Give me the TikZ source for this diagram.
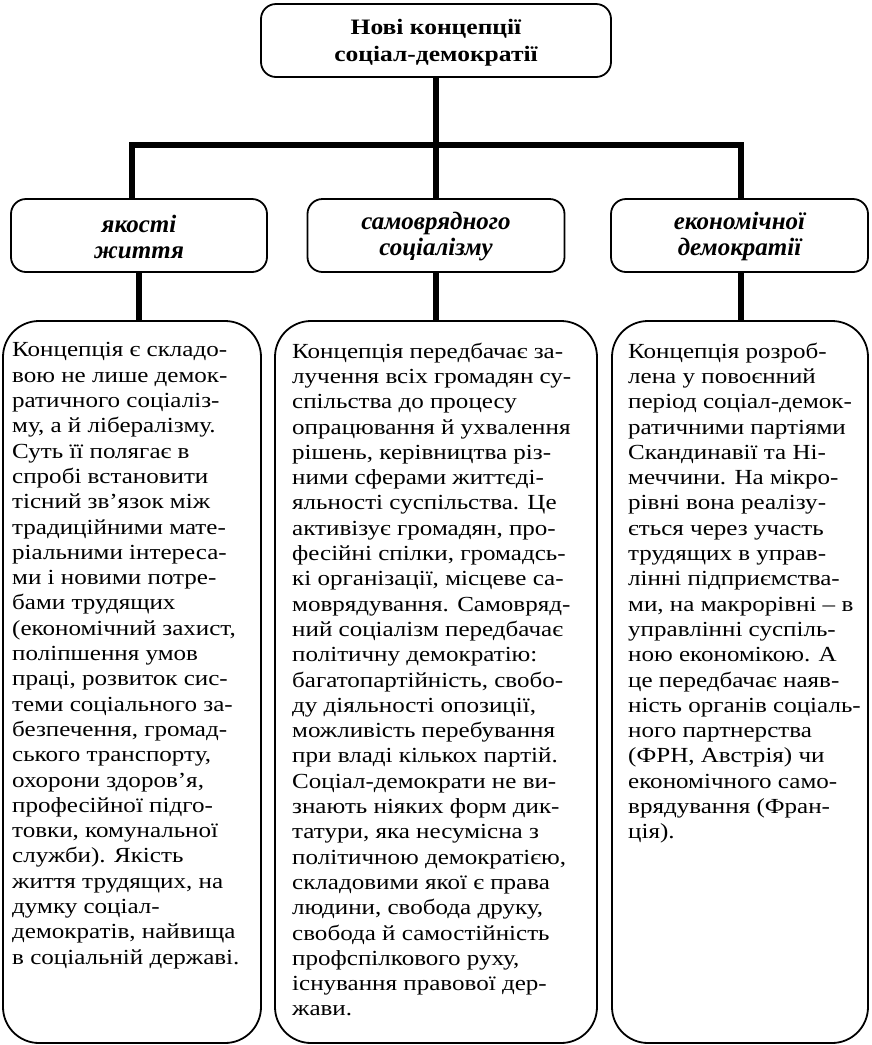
\documentclass[tikz,border=0pt]{standalone}
\usepackage{fontspec}
\setmainfont{Liberation Serif}
\newfontfamily\bodyfont[FakeStretch=1.165]{Liberation Serif}
\newfontfamily\titlefont[FakeStretch=1.16]{Liberation Serif}
\begin{document}
\begin{tikzpicture}[x=1pt,y=-1pt,
  headbox/.style={draw, line width=1.8pt, rounded corners=15pt, rectangle, inner sep=0pt},
  bigbox/.style={draw, line width=1.8pt, rounded corners=36pt, rectangle, inner sep=0pt},
  conn/.style={line width=5.5pt, line join=miter},
  bodytext/.style={font=\bodyfont\fontsize{21.5}{25.3}\selectfont, align=left, inner sep=0pt, anchor=north west},
  titletext/.style={font=\titlefont\fontsize{22}{27}\selectfont\bfseries, align=center, inner sep=0pt},
  subtext/.style={font=\fontsize{25}{26}\selectfont\bfseries\itshape, align=center, inner sep=0pt}
]
\useasboundingbox (0,0) rectangle (872,1045);

% top box
\node[headbox, minimum width=350pt, minimum height=73pt] (top) at (436,40.5) {};
\node[titletext] (toptxt) at ([yshift=-2pt]top.center) {Нові концепції\\соціал-демократії};

% second level
\node[headbox, minimum width=256pt, minimum height=73pt] (l1) at (139,235.5) {};
\node[headbox, minimum width=257pt, minimum height=73pt] (l2) at (436,235.5) {};
\node[headbox, minimum width=257pt, minimum height=73pt] (l3) at (739.5,235.5) {};
\node[subtext] (l1txt) at ([yshift=-1pt]l1.center) {якості\\життя};
\node[subtext] (l2txt) at ([yshift=-1pt]l2.center) {самоврядного\\соціалізму};
\node[subtext] (l3txt) at ([yshift=-1pt]l3.center) {економічної\\демократії};

% bottom boxes
\node[bigbox, minimum width=258pt, minimum height=722pt] (b1) at (132,682) {};
\node[bigbox, minimum width=322pt, minimum height=722pt] (b2) at (436,682) {};
\node[bigbox, minimum width=256pt, minimum height=722pt] (b3) at (740,682) {};

% connectors
\coordinate (hl) at (132,145);
\coordinate (hr) at (741,145);
\draw[conn] (top.south) -- (l2.north);
\draw[conn] (hl |- l1.north) -- (hl) -- (hr) -- (hr |- l3.north);
\draw[conn] (l1.south) -- (l1.south |- b1.north);
\draw[conn] (l2.south) -- (b2.north);
\draw[conn] (l3.south -| hr) -- (hr |- b3.north);

% texts
\node[bodytext] (t1) at (12,342.5) {%
Концепція є складо-\\
вою не лише демок-\\
ратичного соціаліз-\\
му, а й лібералізму.\\
Суть її полягає в\\
спробі встановити\\
тісний зв’язок між\\
традиційними мате-\\
ріальними інтереса-\\
ми і новими потре-\\
бами трудящих\\
(економічний захист,\\
поліпшення умов\\
праці, розвиток сис-\\
теми соціального за-\\
безпечення, громад-\\
ського транспорту,\\
охорони здоров’я,\\
професійної підго-\\
товки, комунальної\\
служби). Якість\\
життя трудящих, на\\
думку соціал-\\
демократів, найвища\\
в соціальній державі.};

\node[bodytext] (t2) at (292,342.5) {%
Концепція передбачає за-\\
лучення всіх громадян су-\\
спільства до процесу\\
опрацювання й ухвалення\\
рішень, керівництва різ-\\
ними сферами життєді-\\
яльності суспільства. Це\\
активізує громадян, про-\\
фесійні спілки, громадсь-\\
кі організації, місцеве са-\\
моврядування. Самовряд-\\
ний соціалізм передбачає\\
політичну демократію:\\
багатопартійність, свобо-\\
ду діяльності опозиції,\\
можливість перебування\\
при владі кількох партій.\\
Соціал-демократи не ви-\\
знають ніяких форм дик-\\
татури, яка несумісна з\\
політичною демократією,\\
складовими якої є права\\
людини, свобода друку,\\
свобода й самостійність\\
профспілкового руху,\\
існування правової дер-\\
жави.};

\node[bodytext] (t3) at (628,342.5) {%
Концепція розроб-\\
лена у повоєнний\\
період соціал-демок-\\
ратичними партіями\\
Скандинавії та Ні-\\
меччини. На мікро-\\
рівні вона реалізу-\\
ється через участь\\
трудящих в управ-\\
лінні підприємства-\\
ми, на макрорівні – в\\
управлінні суспіль-\\
ною економікою. А\\
це передбачає наяв-\\
ність органів соціаль-\\
ного партнерства\\
(ФРН, Австрія) чи\\
економічного само-\\
врядування (Фран-\\
ція).};
\end{tikzpicture}
\end{document}
